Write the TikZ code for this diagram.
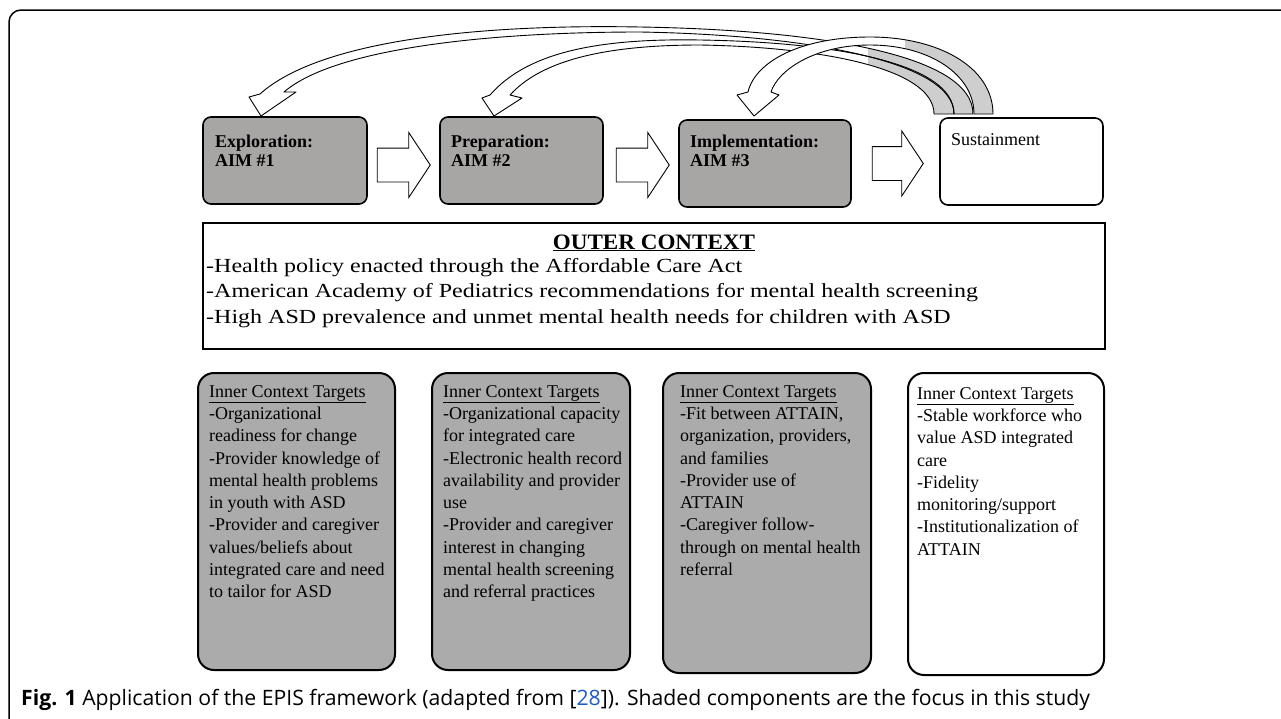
\documentclass[tikz,border=0pt]{standalone}
\usepackage{fontspec}
\setmainfont{Liberation Serif}
\newfontfamily\outerfont[FakeStretch=1.2]{Liberation Serif}
\newfontfamily\outerhdfont[FakeStretch=1.05]{Liberation Serif}
\newfontfamily\capfont{Open Sans}
\usetikzlibrary{positioning, shapes.arrows}

\definecolor{stagegray}{RGB}{168,165,165}
\definecolor{innergray}{RGB}{171,171,171}
\definecolor{stemgray}{RGB}{206,206,206}
\definecolor{linkblue}{RGB}{30,90,200}

% curved feedback arrows (outline paths)
\newcommand{\backtoexplo}{(973,114) .. controls (973,55) and (820,30) .. (640,27) .. controls (480,24) and (320,40) .. (260,94) -- (249,97) -- (261,116) -- (296,92) -- (284,92) .. controls (335,48) and (490,32) .. (640,32) .. controls (810,35) and (954,62) .. (954,114) -- cycle}
\newcommand{\backtoprep}{(954,114) .. controls (954,62) and (830,42) .. (700,40) .. controls (590,38) and (525,55) .. (490,95) -- (482,98) -- (494,116) -- (522,98) -- (510,95) .. controls (540,62) and (600,45) .. (700,45) .. controls (820,47) and (934,68) .. (934,114) -- cycle}
\newcommand{\backtoimpl}{(993,114) .. controls (993,68) and (940,37) .. (870,37) .. controls (800,37) and (755,62) .. (748,92) -- (737,95) -- (754,116) -- (779,95) -- (771,92) .. controls (778,70) and (815,45) .. (870,45) .. controls (930,45) and (974,75) .. (974,114) -- cycle}

\begin{document}
\begin{tikzpicture}[x=1pt, y=-1pt,
    stage/.style={draw, rounded corners=8pt, line width=1.6pt, minimum width=164pt,
        minimum height=87pt, inner sep=0},
    stagelbl/.style={anchor=north west, inner sep=0, align=left,
        font=\fontsize{18}{19}\selectfont},
    blockarr/.style={single arrow, draw, line width=0.9pt, fill=white, minimum height=53pt,
        inner xsep=0, inner ysep=16.5pt, single arrow head extend=15.5pt,
        single arrow tip angle=113},
    innerbox/.style={draw, rounded corners=16pt, line width=2pt, minimum width=197pt,
        minimum height=297pt, inner sep=0},
    innerlbl/.style={anchor=north west, inner sep=0, align=left,
        font=\fontsize{18}{22.3}\selectfont},
    backarr/.style={draw, line width=0.9pt, line join=round}]

    \useasboundingbox (0,0) rectangle (1281,718);

    % Frame
    \draw[line width=1.5pt, rounded corners=12pt] (1283,10) -- (9,10) -- (9,720);

    % Feedback arrows
    \fill[white] \backtoexplo;
    \fill[white] \backtoprep;
    \begin{scope}
        \clip (868,0) rectangle (1000,117);
        \fill[stemgray] \backtoexplo;
        \fill[stemgray] \backtoprep;
    \end{scope}
    \draw[backarr] \backtoexplo;
    \draw[backarr] \backtoprep;
    \fill[white] \backtoimpl;
    \begin{scope}
        \clip (905,0) rectangle (1000,117);
        \fill[stemgray] \backtoimpl;
    \end{scope}
    \draw[backarr] \backtoimpl;

    % Stages
    \node[stage, fill=stagegray] (explo) at (285,160.5) {};
    \node[stage, fill=stagegray, minimum width=163pt] (prep) at (521.5,160.5) {};
    \node[stage, fill=stagegray, minimum width=172pt] (impl) at (765,163.5) {};
    \node[stage, fill=white, minimum width=163pt] (sust) at (1021.5,161.5) {};

    \node[stagelbl, font=\fontsize{18}{19}\selectfont\bfseries] (explolbl) at (215,135) {Exploration:\\AIM \#1};
    \node[stagelbl, font=\fontsize{18}{19}\selectfont\bfseries] (preplbl) at (451,135) {Preparation:\\AIM \#2};
    \node[stagelbl, font=\fontsize{18}{19}\selectfont\bfseries] (impllbl) at (690,135) {Implementation:\\AIM \#3};
    \node[stagelbl] (sustlbl) at (951,133) {Sustainment};

    % Block arrows
    \node[blockarr, right=9pt of explo, yshift=-4.5pt] (a1) {};
    \node[blockarr, right=12pt of prep, yshift=-4.5pt] (a2) {};
    \node[blockarr, right=20pt of impl, minimum height=51pt] (a3) {};

    % Outer context
    \node[draw, line width=2.5pt, minimum width=902pt, minimum height=126pt, inner sep=0]
        (outer) at (654,286) {};
    \node[anchor=base, inner sep=0, font=\fontsize{22}{23}\selectfont\outerhdfont\bfseries]
        (outerhd) at (654,249) {\underline{OUTER CONTEXT}};
    \node[anchor=north west, inner sep=0, align=left, font=\fontsize{20}{25.5}\selectfont\outerfont]
        (outertxt) at (206,258) {-Health policy enacted through the Affordable Care Act\\
        -American Academy of Pediatrics recommendations for mental health screening\\
        -High ASD prevalence and unmet mental health needs for children with ASD};

    % Inner context
    \node[innerbox, fill=innergray] (in1) at (296.5,521.5) {};
    \node[innerbox, fill=innergray, minimum width=198pt] (in2) at (531,521.5) {};
    \node[innerbox, fill=innergray, minimum width=208pt, minimum height=300pt] (in3) at (767,523) {};
    \node[innerbox, fill=white, minimum width=196pt, minimum height=302pt] (in4) at (1006,524) {};

    \node[innerlbl] (in1lbl) at (209,385) {\underline{Inner Context Targets}\\
        -Organizational\\readiness for change\\-Provider knowledge of\\
        mental health problems\\in youth with ASD\\-Provider and caregiver\\
        values/beliefs about\\integrated care and need\\to tailor for ASD};
    \node[innerlbl] (in2lbl) at (443,385) {\underline{Inner Context Targets}\\
        -Organizational capacity\\for integrated care\\-Electronic health record\\
        availability and provider\\use\\-Provider and caregiver\\
        interest in changing\\mental health screening\\and referral practices};
    \node[innerlbl] (in3lbl) at (680,385) {\underline{Inner Context Targets}\\
        -Fit between ATTAIN,\\organization, providers,\\and families\\
        -Provider use of\\ATTAIN\\-Caregiver follow-\\through on mental health\\referral};
    \node[innerlbl] (in4lbl) at (917,387) {\underline{Inner Context Targets}\\
        -Stable workforce who\\value ASD integrated\\care\\-Fidelity\\
        monitoring/support\\-Institutionalization of\\ATTAIN};

    % Caption
    \node[anchor=base west, inner sep=0, font=\fontsize{21.2}{22}\selectfont\capfont] (caption)
        at (21,705) {\textbf{Fig. 1} Application of the EPIS framework (adapted from
        [{\color{linkblue}28}]). Shaded components are the focus in this study};

\end{tikzpicture}
\end{document}
